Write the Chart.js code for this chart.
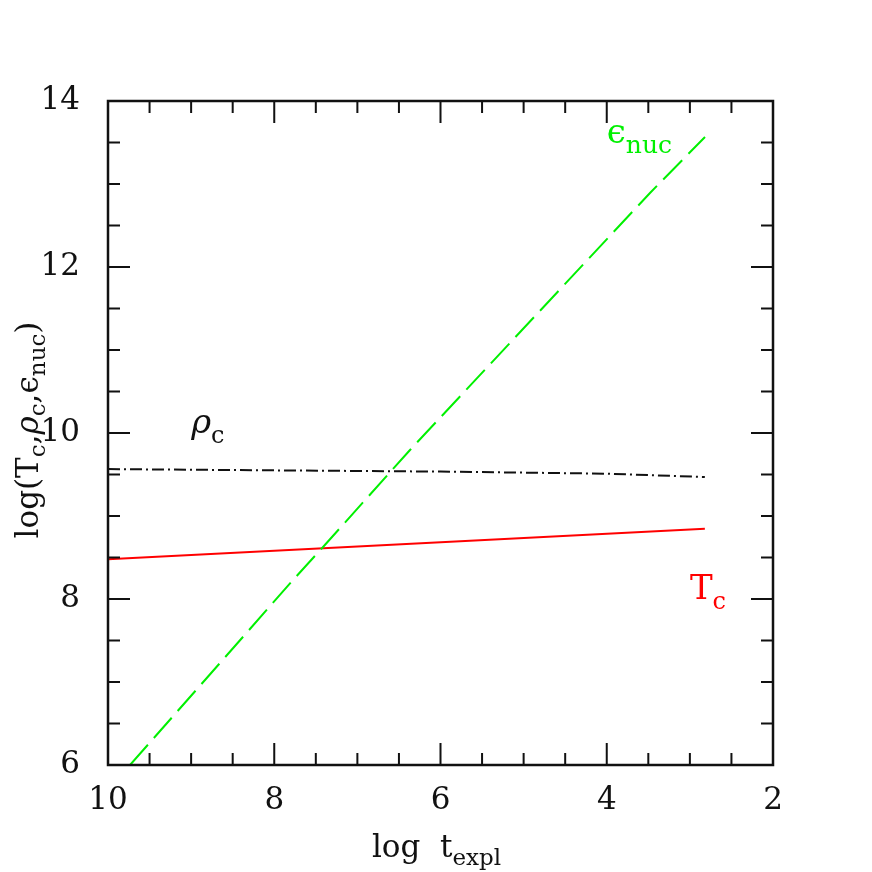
<!DOCTYPE html>
<html>
<head>
<meta charset="utf-8">
<script src="https://cdn.jsdelivr.net/npm/chart.js@4.4.0/dist/chart.umd.min.js"></script>
<style>
  html, body { margin: 0; background: #fff; }
</style>
</head>
<body>
<canvas id="chart" width="872" height="872"></canvas>
<script>
// log t_expl on x, log of central quantities on y
var tcX  = [10, 2.82];
var tcY  = [8.48, 8.845];
var rhoX = [10, 8, 6, 4, 2.82];
var rhoY = [9.565, 9.55, 9.535, 9.51, 9.47];
var epsX = [9.735, 8.833, 7.774, 7.413, 6.367, 3.480, 2.818];
var epsY = [6.0, 7.024, 8.229, 8.627, 9.795, 12.892, 13.566];
var xTicks = [10, 8, 6, 4, 2];
var yTicks = [6, 8, 10, 12, 14];

var FONT = "'DejaVu Serif', 'Liberation Serif', serif";
var GREEN = '#00f000', RED = '#ff0000', INK = '#111';

function pts(xs, ys) {
    return xs.map(function (x, i) { return { x: x, y: ys[i] }; });
}

// draws text with sub/superscript parts: [text, size, dy, italic]
function rich(ctx, x, y, parts, color, align) {
    var total = 0, widths = [];
    parts.forEach(function (p) {
        ctx.font = (p[3] ? 'italic ' : '') + p[1] + 'px ' + FONT;
        var w = ctx.measureText(p[0]).width;
        widths.push(w);
        total += w;
    });
    var cx = align === 'center' ? x - total / 2 : x;
    ctx.fillStyle = color;
    ctx.textBaseline = 'alphabetic';
    ctx.textAlign = 'left';
    parts.forEach(function (p, i) {
        ctx.font = (p[3] ? 'italic ' : '') + p[1] + 'px ' + FONT;
        ctx.fillText(p[0], cx, y + p[2]);
        cx += widths[i];
    });
}

var frame = {
    id: 'frame',
    afterDraw: function (chart) {
        var ctx = chart.ctx, ca = chart.chartArea;
        var xs = chart.scales.x, ys = chart.scales.y;
        ctx.save();
        ctx.strokeStyle = INK;
        ctx.lineWidth = 2;
        ctx.beginPath();
        var v, p, len;
        for (v = 2.5; v < 10; v += 0.5) {
            p = xs.getPixelForValue(v);
            len = (v % 2 === 0) ? 22 : 12;
            ctx.moveTo(p, ca.bottom); ctx.lineTo(p, ca.bottom - len);
            ctx.moveTo(p, ca.top); ctx.lineTo(p, ca.top + len);
        }
        for (v = 6.5; v < 14; v += 0.5) {
            p = ys.getPixelForValue(v);
            len = (v % 2 === 0) ? 22 : 12;
            ctx.moveTo(ca.left, p); ctx.lineTo(ca.left + len, p);
            ctx.moveTo(ca.right, p); ctx.lineTo(ca.right - len, p);
        }
        ctx.stroke();
        ctx.lineWidth = 2.5;
        ctx.strokeRect(ca.left, ca.top, ca.right - ca.left, ca.bottom - ca.top);

        // curve labels
        rich(ctx, xs.getPixelForValue(4), ys.getPixelForValue(13.5),
            [['\u03f5', 34, 0], ['nuc', 25, 10]], GREEN);
        rich(ctx, xs.getPixelForValue(9), ys.getPixelForValue(10),
            [['\u03c1', 34, 0, true], ['c', 24, 10]], INK);
        rich(ctx, xs.getPixelForValue(3), ys.getPixelForValue(8),
            [['T', 34, 0], ['c', 24, 10]], RED);

        // axis titles
        rich(ctx, (ca.left + ca.right) / 2 - 4, 857,
            [['log  t', 31, 0], ['expl', 23, 8]], INK, 'center');
        ctx.translate(38, (ca.top + ca.bottom) / 2 - 3);
        ctx.rotate(-Math.PI / 2);
        rich(ctx, 0, 0, [
            ['log(T', 31, 0], ['c', 23, 7], [',', 31, 0],
            ['\u03c1', 31, 0, true], ['c', 23, 7], [',', 31, 0],
            ['\u03f5', 31, 0], ['nuc', 23, 7], [')', 31, 0]
        ], INK, 'center');
        ctx.restore();
    }
};

function fixTicks(list) {
    return function (scale) {
        scale.ticks = list.map(function (v) { return { value: v }; });
    };
}

new Chart(document.getElementById('chart'), {
    type: 'scatter',
    data: {
        datasets: [
            { label: 'eps', data: pts(epsX, epsY), borderColor: GREEN, borderWidth: 2,
              borderDash: [27, 9], showLine: true, pointRadius: 0, fill: false },
            { label: 'rho', data: pts(rhoX, rhoY), borderColor: INK, borderWidth: 2,
              borderDash: [12, 4, 2, 4], showLine: true, pointRadius: 0, fill: false },
            { label: 'Tc', data: pts(tcX, tcY), borderColor: RED, borderWidth: 2,
              showLine: true, pointRadius: 0, fill: false }
        ]
    },
    options: {
        responsive: false,
        animation: false,
        layout: { padding: { top: 101, right: 99, left: 0, bottom: 0 } },
        plugins: { legend: { display: false }, tooltip: { enabled: false } },
        scales: {
            x: {
                type: 'linear', min: 2, max: 10, reverse: true,
                grid: { display: false }, border: { display: false },
                afterBuildTicks: fixTicks(xTicks),
                afterFit: function (s) { s.height = 107; },
                ticks: { color: INK, font: { family: FONT, size: 31 }, padding: 9,
                         maxRotation: 0, autoSkip: false }
            },
            y: {
                type: 'linear', min: 6, max: 14,
                grid: { display: false }, border: { display: false },
                afterBuildTicks: fixTicks(yTicks),
                afterFit: function (s) { s.width = 108; },
                ticks: { color: INK, font: { family: FONT, size: 31 }, padding: 20,
                         autoSkip: false }
            }
        }
    },
    plugins: [frame]
});
</script>
</body>
</html>
